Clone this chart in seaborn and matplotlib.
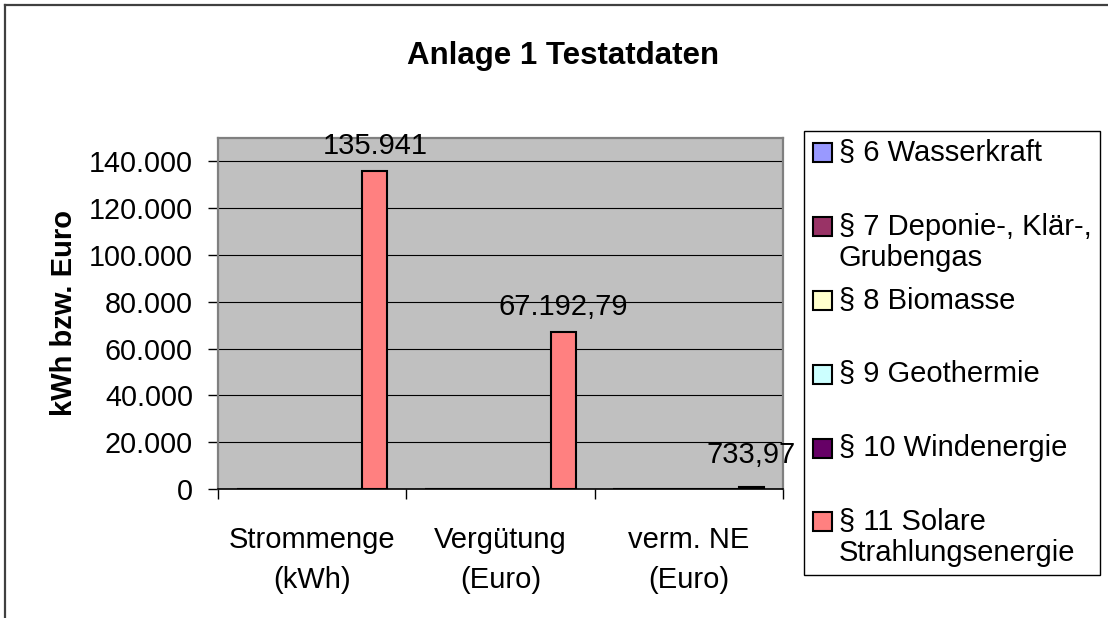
import matplotlib
matplotlib.use("Agg")
import matplotlib.pyplot as plt
import seaborn as sns
import pandas as pd
from matplotlib.patches import Rectangle
from matplotlib.lines import Line2D
from matplotlib.ticker import FixedLocator, FuncFormatter, NullFormatter

# ---------------- data ----------------
categories = ["Strommenge\n(kWh)", "Vergütung\n(Euro)", "verm. NE\n(Euro)"]
series_names = ["§ 6 Wasserkraft", "§ 7 Deponie-, Klär-,\nGrubengas", "§ 8 Biomasse",
                "§ 9 Geothermie", "§ 10 Windenergie", "§ 11 Solare\nStrahlungsenergie"]
wasserkraft = [0, 0, 0]
deponie = [0, 0, 0]
biomasse = [0, 0, 0]
geothermie = [0, 0, 0]
windenergie = [0, 0, 0]
solar = [135941, 67192.79, 733.97]
series_colors = ["#9999FF", "#993366", "#FFFFCC", "#CCFFFF", "#660066", "#FF8080"]
y_ticks = [0, 20000, 40000, 60000, 80000, 100000, 120000, 140000]
y_max = 150000
title = "Anlage 1 Testatdaten"
y_label = "kWh bzw. Euro"

all_series = [wasserkraft, deponie, biomasse, geothermie, windenergie, solar]
rows = []
for name, vals in zip(series_names, all_series):
    for cat, v in zip(categories, vals):
        rows.append({"Kategorie": cat, "Serie": name, "Wert": v})
df = pd.DataFrame(rows)

def de_fmt(v):
    v = float(v)
    if v.is_integer():
        s = f"{v:,.0f}"
    else:
        s = f"{v:,.2f}"
    return s.replace(",", "X").replace(".", ",").replace("X", ".")

# ---------------- figure ----------------
plt.rcParams["font.family"] = ["Liberation Sans", "DejaVu Sans"]
FS = 21
W, H = 1108, 618
fig = plt.figure(figsize=(W / 100, H / 100), dpi=100)
fig.patch.set_facecolor("white")

def fx(x):
    return x / W

def fy(y):
    return 1 - y / H

L, R, T, B = 218, 783, 138, 489
ax = fig.add_axes([fx(L), fy(B), fx(R - L), (B - T) / H])

sns.barplot(data=df, x="Kategorie", y="Wert", hue="Serie", order=categories,
            hue_order=series_names, palette=series_colors, errorbar=None,
            width=0.8, edgecolor="black", linewidth=1.5, legend=False,
            saturation=1, ax=ax)

ax.set_facecolor("#C0C0C0")
ax.set_ylim(0, y_max)
ax.set_xlim(-0.5, len(categories) - 0.5)
ax.set_xlabel("")
ax.set_ylabel(y_label, fontsize=FS, fontweight="bold", labelpad=8)

ax.yaxis.set_major_locator(FixedLocator(y_ticks))
ax.yaxis.set_major_formatter(FuncFormatter(lambda v, p: de_fmt(v)))
ax.tick_params(axis="y", labelsize=20.7, length=7, width=1, color="black", pad=11)

ax.xaxis.set_major_locator(FixedLocator([i - 0.5 for i in range(len(categories) + 1)]))
ax.xaxis.set_major_formatter(NullFormatter())
ax.xaxis.set_minor_locator(FixedLocator(list(range(len(categories)))))
ax.set_xticklabels(categories, minor=True)
ax.tick_params(axis="x", which="major", length=7, width=1, color="black")
ax.tick_params(axis="x", which="minor", length=0, labelsize=FS, pad=27)
for t in ax.get_xticklabels(minor=True):
    t.set_linespacing(1.5)

ax.yaxis.grid(True, color="black", linewidth=0.8)
ax.xaxis.grid(False)
ax.set_axisbelow(True)

for side in ["top", "right", "left"]:
    ax.spines[side].set_color("#808080")
    ax.spines[side].set_linewidth(1.6)
ax.spines["bottom"].set_color("black")
ax.spines["bottom"].set_linewidth(1.2)

# data labels on the solar series
solar_container = ax.containers[-1]
anns = ax.bar_label(solar_container, labels=[de_fmt(v) for v in solar], padding=8,
                    fontsize=FS, color="black")
anns[-1].xyann = (0, 13)

# title
fig.text(fx(563), fy(56), title, ha="center", va="center", fontsize=22.5,
         fontweight="bold")

# legend (manual, Excel style)
fig.add_artist(Rectangle((fx(804), fy(575)), fx(1100 - 804), (575 - 131) / H,
                         transform=fig.transFigure, facecolor="white",
                         edgecolor="black", linewidth=1))
entry_y = [152.7, 226.7, 300.7, 374.5, 448.3, 521.7]
for name, col, yy in zip(series_names, series_colors, entry_y):
    fig.add_artist(Rectangle((fx(813), fy(yy + 9.5)), fx(19), 19 / H,
                             transform=fig.transFigure, facecolor=col,
                             edgecolor="black", linewidth=1.5))
    for k, line in enumerate(name.split("\n")):
        fig.text(fx(839), fy(yy + 31 * k), line, ha="left", va="center",
                 fontsize=FS)

# outer chart border (top and left visible)
fig.add_artist(Line2D([fx(4.5), fx(4.5)], [fy(5), 0], transform=fig.transFigure,
                      color="#404040", linewidth=1.6))
fig.add_artist(Line2D([fx(4.5), 1], [fy(5), fy(5)], transform=fig.transFigure,
                      color="#404040", linewidth=1.6))

fig.savefig("out.png", dpi=100)
